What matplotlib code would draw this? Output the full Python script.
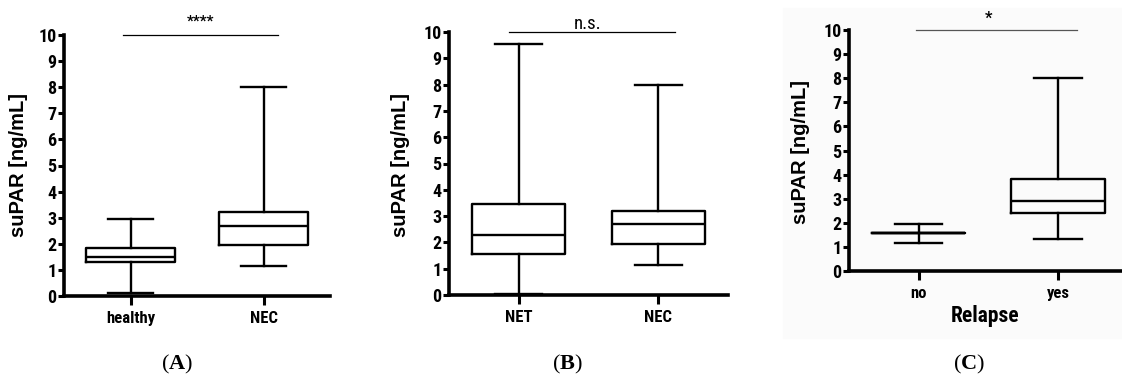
import matplotlib
matplotlib.use("Agg")
import matplotlib.pyplot as plt
from matplotlib import font_manager as fm

# ---- data ----
cats_a = ["healthy", "NEC"]
whislo_a = [0.1, 1.15]
q1_a = [1.3, 1.95]
med_a = [1.5, 2.7]
q3_a = [1.85, 3.2]
whishi_a = [2.95, 8.0]

cats_b = ["NET", "NEC"]
whislo_b = [0.05, 1.15]
q1_b = [1.55, 1.95]
med_b = [2.3, 2.7]
q3_b = [3.45, 3.2]
whishi_b = [9.55, 8.0]

cats_c = ["no", "yes"]
whislo_c = [1.18, 1.32]
q1_c = [1.57, 2.42]
med_c = [1.57, 2.9]
q3_c = [1.57, 3.8]
whishi_c = [1.97, 8.0]

sig_labels = ["****", "n.s.", "*"]
panel_labels = ["A", "B", "C"]
yticks = list(range(0, 11))

names = {f.name for f in fm.fontManager.ttflist}
narrow = "Liberation Sans"
for cand in ["Liberation Sans Narrow", "Arial Narrow", "Roboto Condensed",
             "Archivo Narrow", "Asap Condensed"]:
    if cand in names:
        narrow = cand
        break
plt.rcParams["font.family"] = [narrow, "DejaVu Sans"]
plt.rcParams["mathtext.fontset"] = "custom"
plt.rcParams["mathtext.rm"] = "Liberation Serif"
plt.rcParams["mathtext.bf"] = "Liberation Serif:bold"

W, H = 1122, 390
fig = plt.figure(figsize=(W / 100, H / 100), dpi=100)


def px_axes(left, right, top, bottom):
    return fig.add_axes([left / W, 1 - bottom / H, (right - left) / W, (bottom - top) / H])


def draw_panel(ax, cats, lo, q1, med, q3, hi, xmax, ylab_x, ylab_y):
    stats = []
    for i in range(len(cats)):
        stats.append(dict(whislo=lo[i], q1=q1[i], med=med[i], q3=q3[i], whishi=hi[i]))
    lw = 1.7
    ax.bxp(stats, positions=list(range(len(cats))), widths=0.67, capwidths=0.34,
           showfliers=False, patch_artist=False,
           boxprops=dict(color="black", linewidth=lw),
           medianprops=dict(color="black", linewidth=lw),
           whiskerprops=dict(color="black", linewidth=lw),
           capprops=dict(color="black", linewidth=lw))
    for art in ax.lines:
        art.set_clip_on(False)
    ax.set_xlim(-0.5, xmax)
    ax.set_ylim(0, 10)
    ax.set_yticks(yticks)
    ax.set_xticks(list(range(len(cats))))
    ax.set_xticklabels(cats, fontsize=12, fontweight="bold")
    ax.set_yticklabels([str(t) for t in yticks], fontsize=13, fontweight="bold")
    for s in ["top", "right"]:
        ax.spines[s].set_visible(False)
    for s in ["left", "bottom"]:
        ax.spines[s].set_linewidth(2.6)
    ax.tick_params(axis="y", length=4.5, width=2.2, pad=1)
    ax.tick_params(axis="x", length=6.5, width=2.2, pad=4)
    ax.patch.set_alpha(0)
    fig.text(ylab_x / W, 1 - ylab_y / H, "suPAR [ng/mL]", rotation=90,
             ha="center", va="center", fontsize=14.5, fontweight="bold",
             family=["Liberation Sans", "DejaVu Sans"])


# panel C faint background
fig.patches.append(plt.Rectangle((783 / W, 1 - 338 / H), (W - 783) / W, (338 - 8) / H,
                                 transform=fig.transFigure, color="#fbfbfb", zorder=-5))

axA = px_axes(64, 330, 35, 296)
draw_panel(axA, cats_a, whislo_a, q1_a, med_a, q3_a, whishi_a, 1.5, 18, 165)
axA.plot([-0.06, 1.11], [10, 10], color="black", lw=0.9, clip_on=False)
axA.text(0.525, 10.5, sig_labels[0], ha="center", va="center", fontsize=11, fontweight="bold")

axB = px_axes(449, 728, 32, 295)
draw_panel(axB, cats_b, whislo_b, q1_b, med_b, q3_b, whishi_b, 1.5, 400, 165)
axB.plot([-0.07, 1.12], [10, 10], color="black", lw=0.9, clip_on=False)
axB.text(0.49, 10.32, sig_labels[1], ha="center", va="center", fontsize=13.5)

axC = px_axes(849, 1122, 30, 271)
draw_panel(axC, cats_c, whislo_c, q1_c, med_c, q3_c, whishi_c, 1.46, 801, 152)
axC.plot([-0.02, 1.14], [10, 10], color="#555555", lw=0.9, clip_on=False)
axC.text(0.5, 10.5, sig_labels[2], ha="center", va="center", fontsize=12, fontweight="bold")
axC.set_xlabel("Relapse", fontsize=15.5, fontweight="bold", labelpad=3)

for lab, x in zip(panel_labels, [177, 567, 969]):
    fig.text(x / W, 1 - 364 / H, r"($\mathbf{%s}$)" % lab, ha="center", va="center",
             fontsize=16, family=["Liberation Serif", "DejaVu Serif"])

fig.savefig("out.png", dpi=100)
